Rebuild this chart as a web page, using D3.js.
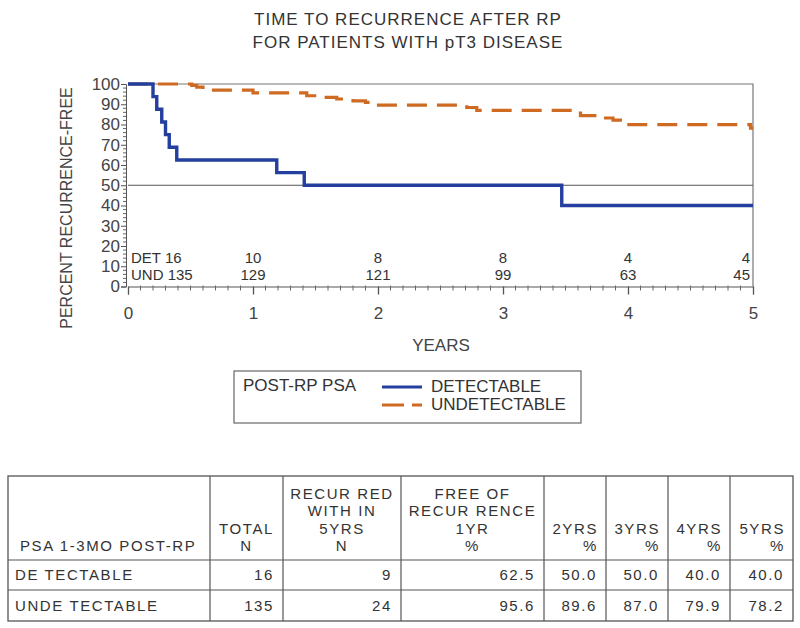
<!DOCTYPE html>
<html>
<head>
<meta charset="utf-8">
<script src="https://cdn.jsdelivr.net/npm/d3@7"></script>
<style>
  body { margin: 0; background: #fff; }
  svg text { font-family: "Liberation Sans", Arial, sans-serif; fill: #333; }
</style>
</head>
<body>
<svg id="chart" width="800" height="628"></svg>
<script>
// KM curve: detectable post-RP PSA
var detTimes = [0, 0.20, 0.23, 0.27, 0.30, 0.33, 0.39, 1.19, 1.41, 3.47, 5]
var detSurv  = [100, 93.75, 87.5, 81.25, 75, 68.75, 62.5, 56.25, 50, 40, 40]

// KM curve: undetectable
var undTimes = [0, 0.51, 0.55, 0.60, 1.00, 1.43, 1.56, 1.67, 1.80, 1.90, 1.96, 2.71, 2.79, 3.56, 3.62, 3.80, 3.88, 3.96, 4.98, 5]
var undSurv  = [100, 99.3, 98.5, 97.0, 95.6, 94.2, 93.4, 92.6, 91.7, 90.9, 89.6, 88.4, 87.0, 85.6, 84.4, 83.2, 82.2, 79.9, 78.2, 78.2]

// numbers at risk
var riskYears = [0, 1, 2, 3, 4, 5]
var detRisk = [16, 10, 8, 8, 4, 4]
var undRisk = [135, 129, 121, 99, 63, 45]

// summary table
var tableHead = [
  ["PSA 1-3MO POST-RP"],
  ["TOTAL", "N"],
  ["RECUR RED", "WITH IN", "5YRS", "N"],
  ["FREE OF", "RECUR RENCE", "1YR", "%"],
  ["2YRS", "%"],
  ["3YRS", "%"],
  ["4YRS", "%"],
  ["5YRS", "%"]
]
var rowNames = ["DE TECTABLE", "UNDE TECTABLE"]
var totalN = [16, 135]
var recurN = [9, 24]
var free1 = ["62.5", "95.6"]
var free2 = ["50.0", "89.6"]
var free3 = ["50.0", "87.0"]
var free4 = ["40.0", "79.9"]
var free5 = ["40.0", "78.2"]

var svg = d3.select("#chart")

var x = d3.scaleLinear().domain([0, 5]).range([128, 753])
var y = d3.scaleLinear().domain([0, 100]).range([286.5, 84])

// title
svg.append("text").attr("x", 408).attr("y", 25).attr("text-anchor", "middle")
  .style("font-size", "17px").style("letter-spacing", "1px").text("TIME TO RECURRENCE AFTER RP")
svg.append("text").attr("x", 408).attr("y", 48).attr("text-anchor", "middle")
  .style("font-size", "17px").style("letter-spacing", "1px").text("FOR PATIENTS WITH pT3 DISEASE")

// frame
svg.append("path")
  .attr("d", "M" + x(0) + "," + y(100) + "H" + x(5) + "V" + y(0))
  .attr("fill", "none").attr("stroke", "#777").attr("stroke-width", 1.2)

// 50% reference
svg.append("line")
  .attr("x1", x(0)).attr("x2", x(5)).attr("y1", y(50)).attr("y2", y(50))
  .attr("stroke", "#555").attr("stroke-width", 1)

// y axis
var yAxis = svg.append("g").attr("transform", "translate(" + (x(0) - 2) + ",0)")
  .call(d3.axisLeft(y).tickValues(d3.range(0, 101, 10)).tickSize(5).tickPadding(1))
yAxis.selectAll("text").style("font-size", "17px").style("fill", "#444")
yAxis.select(".domain").attr("stroke", "#555")
yAxis.selectAll(".tick line").attr("stroke", "#555")
svg.append("g").attr("transform", "translate(" + (x(0) - 2) + ",0)")
  .selectAll("line").data(d3.range(0, 101, 2).filter(function(d){ return d % 10 })).enter()
  .append("line").attr("x1", -3).attr("x2", 0)
  .attr("y1", function(d){ return y(d) }).attr("y2", function(d){ return y(d) })
  .attr("stroke", "#666")

// x axis
var xAxis = svg.append("g").attr("transform", "translate(0," + y(0) + ")")
  .call(d3.axisBottom(x).tickValues(riskYears).tickSize(8).tickPadding(12).tickFormat(d3.format("d")))
xAxis.selectAll("text").style("font-size", "17px").style("fill", "#444")
xAxis.select(".domain").attr("stroke", "#555")
xAxis.selectAll(".tick line").attr("stroke", "#555").attr("stroke-width", 1.3)
svg.append("g").attr("transform", "translate(0," + y(0) + ")")
  .selectAll("line").data(d3.range(1, 50).filter(function(d){ return d % 10 })).enter()
  .append("line").attr("y1", -1).attr("y2", 4)
  .attr("x1", function(d){ return x(d / 10) }).attr("x2", function(d){ return x(d / 10) })
  .attr("stroke", "#666")

// axis labels
svg.append("text").attr("transform", "translate(72,208) rotate(-90)")
  .attr("text-anchor", "middle").style("font-size", "16px").style("fill", "#444")
  .text("PERCENT RECURRENCE-FREE")
svg.append("text").attr("x", 441).attr("y", 351).attr("text-anchor", "middle")
  .style("font-size", "17px").style("fill", "#444").text("YEARS")

// curves
var step = d3.line().curve(d3.curveStepAfter)
  .x(function(d){ return x(d[0]) }).y(function(d){ return y(d[1]) })

svg.append("path")
  .datum(d3.zip(undTimes, undSurv))
  .attr("d", step)
  .attr("fill", "none").attr("stroke", "#cf6a22").attr("stroke-width", 3.2)
  .attr("stroke-dasharray", "20,10")

svg.append("path")
  .datum(d3.zip(detTimes, detSurv))
  .attr("d", step)
  .attr("fill", "none").attr("stroke", "#243f9e").attr("stroke-width", 3.4)

// numbers at risk
var risk = svg.append("g").style("font-size", "15px")
risk.selectAll(".det").data(riskYears).enter().append("text")
  .attr("x", function(d, i){ return i == 0 ? x(0) + 3 : (i == 5 ? x(d) - 3 : x(d)) })
  .attr("y", 263)
  .attr("text-anchor", function(d, i){ return i == 0 ? "start" : (i == 5 ? "end" : "middle") })
  .text(function(d, i){ return i == 0 ? "DET " + detRisk[i] : detRisk[i] })
risk.selectAll(".und").data(riskYears).enter().append("text")
  .attr("x", function(d, i){ return i == 0 ? x(0) + 3 : (i == 5 ? x(d) - 3 : x(d)) })
  .attr("y", 280)
  .attr("text-anchor", function(d, i){ return i == 0 ? "start" : (i == 5 ? "end" : "middle") })
  .text(function(d, i){ return i == 0 ? "UND " + undRisk[i] : undRisk[i] })

// legend
var lg = svg.append("g")
lg.append("rect").attr("x", 234).attr("y", 371).attr("width", 347).attr("height", 52)
  .attr("fill", "#fff").attr("stroke", "#666").attr("stroke-width", 1.2)
lg.append("text").attr("x", 243).attr("y", 391).style("font-size", "17px").text("POST-RP PSA")
lg.append("line").attr("x1", 382).attr("x2", 422).attr("y1", 387).attr("y2", 387)
  .attr("stroke", "#243f9e").attr("stroke-width", 3)
lg.append("line").attr("x1", 382).attr("x2", 422).attr("y1", 405).attr("y2", 405)
  .attr("stroke", "#cf6a22").attr("stroke-width", 3).attr("stroke-dasharray", "22,8")
lg.append("text").attr("x", 431).attr("y", 392).style("font-size", "17px").text("DETECTABLE")
lg.append("text").attr("x", 431).attr("y", 410).style("font-size", "17px").text("UNDETECTABLE")

// table
var colX = [8, 210, 283, 401, 544, 606, 668, 730, 793]
var rowY = [476, 560, 590, 621]
var tb = svg.append("g").style("font-size", "15px").style("letter-spacing", "1.6px")
tb.append("rect").attr("x", colX[0]).attr("y", rowY[0])
  .attr("width", colX[8] - colX[0]).attr("height", rowY[3] - rowY[0])
  .attr("fill", "none").attr("stroke", "#555").attr("stroke-width", 1.3)
tb.selectAll(".vl").data(colX.slice(1, 8)).enter().append("line")
  .attr("x1", function(d){ return d }).attr("x2", function(d){ return d })
  .attr("y1", rowY[0]).attr("y2", rowY[3]).attr("stroke", "#555").attr("stroke-width", 1.2)
tb.selectAll(".hl").data(rowY.slice(1, 3)).enter().append("line")
  .attr("x1", colX[0]).attr("x2", colX[8])
  .attr("y1", function(d){ return d }).attr("y2", function(d){ return d })
  .attr("stroke", "#555").attr("stroke-width", 1.2)

// header cells (bottom aligned)
tableHead.forEach(function(lines, c) {
  var anchor = c == 0 ? "start" : (c >= 4 ? "end" : "middle")
  var tx = c == 0 ? colX[0] + 12 : (c >= 4 ? colX[c + 1] - 8 : (colX[c] + colX[c + 1]) / 2)
  lines.forEach(function(t, j) {
    tb.append("text").attr("x", tx).attr("y", 551 - (lines.length - 1 - j) * 17.5)
      .attr("text-anchor", anchor).text(t)
  })
})

var cols = [totalN, recurN, free1, free2, free3, free4, free5]
var baseY = [580, 611]
rowNames.forEach(function(name, r) {
  tb.append("text").attr("x", colX[0] + 7).attr("y", baseY[r]).text(name)
  cols.forEach(function(col, c) {
    tb.append("text").attr("x", colX[c + 2] - 9).attr("y", baseY[r])
      .attr("text-anchor", "end").text(col[r])
  })
})
</script>
</body>
</html>
